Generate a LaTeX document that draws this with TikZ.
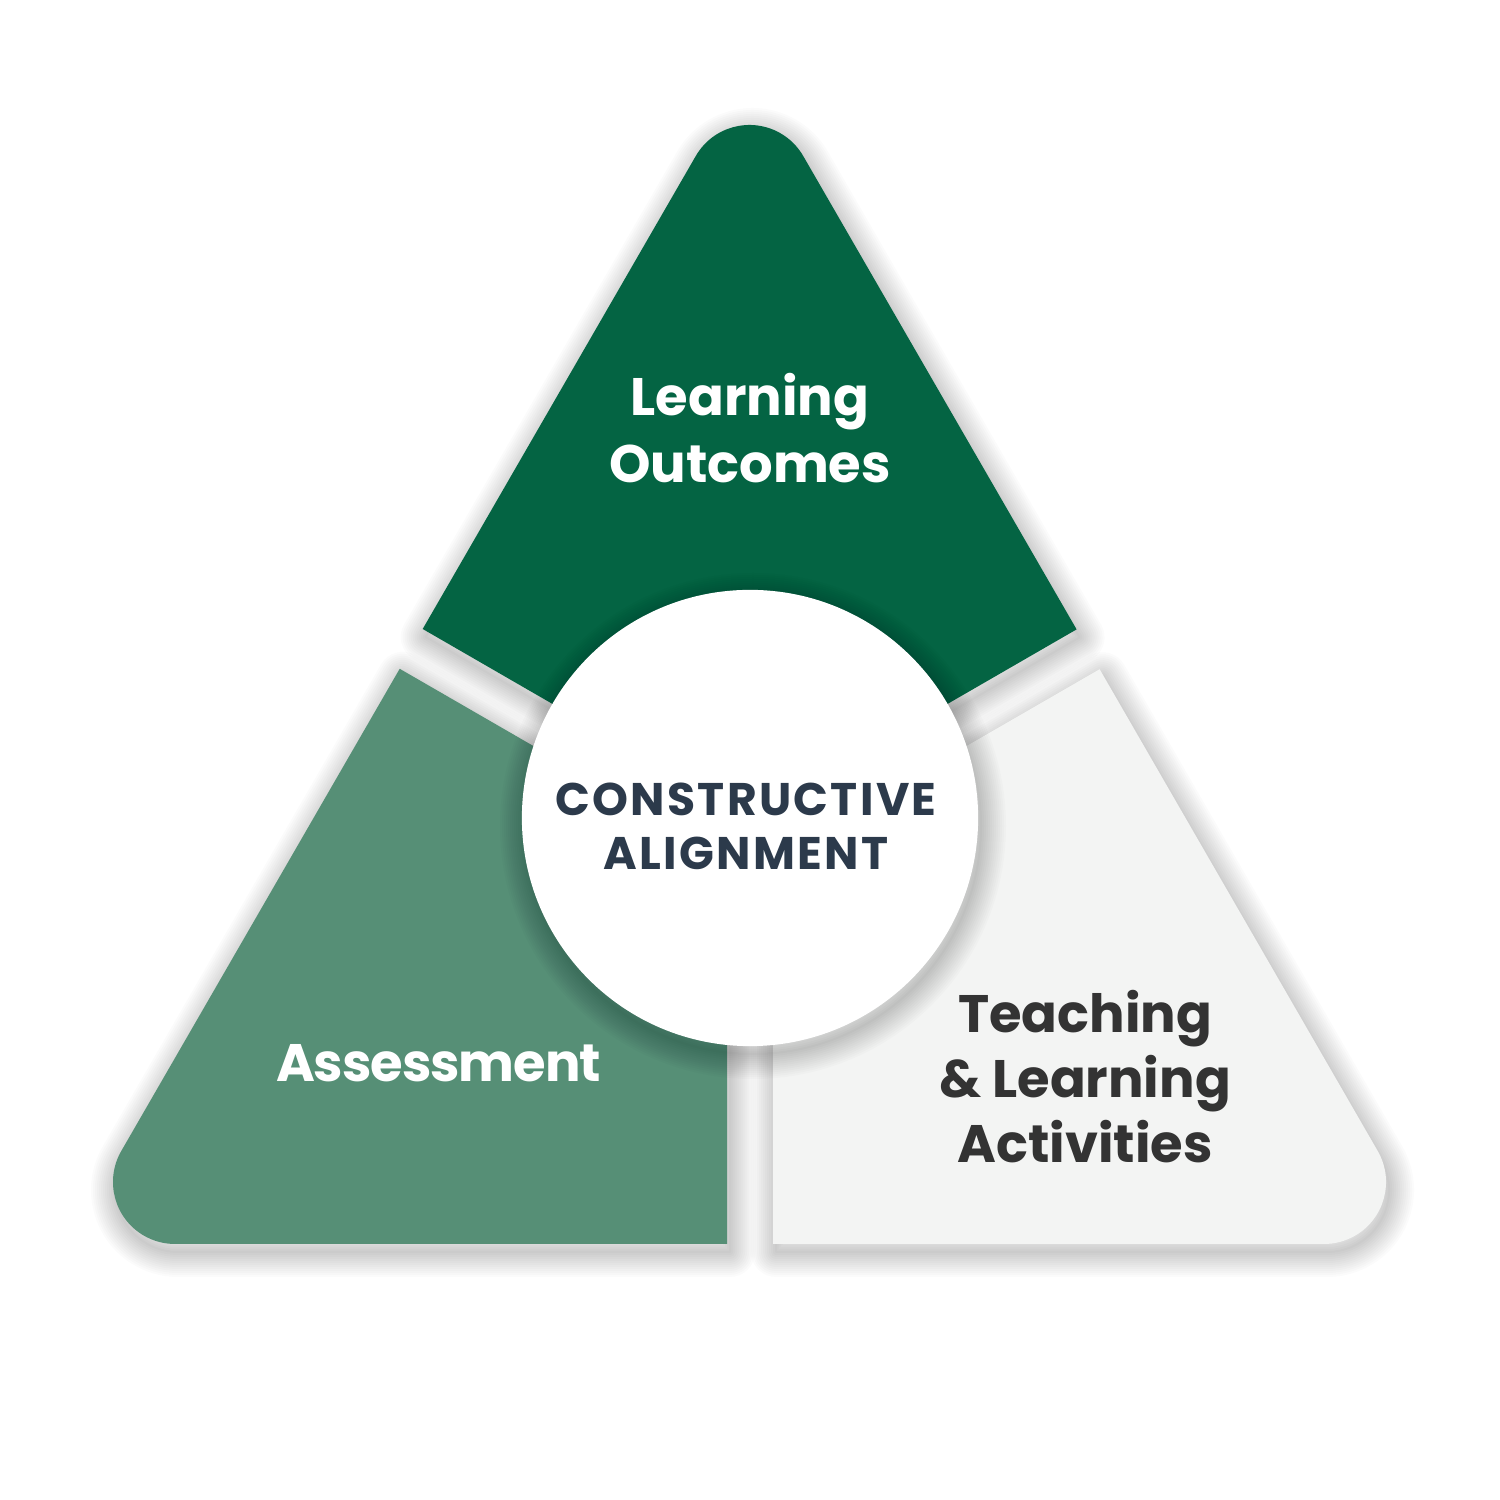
\documentclass[tikz,border=0pt]{standalone}
\usepackage{fontspec}
\setmainfont{Poppins}
\definecolor{dkgreen}{RGB}{4,100,67}
\definecolor{mdgreen}{RGB}{86,143,118}
\definecolor{ltgrey}{RGB}{243,244,243}
\definecolor{navytxt}{RGB}{44,58,75}
\definecolor{greytxt}{RGB}{51,51,51}
\def\toppath{(422.7,871) -- (695.8,1344) arc[start angle=150,end angle=30,radius=62] -- (1076.6,870.6) -- (750,682) -- cycle}
\def\leftpath{(399.7,831.2) -- (121.3,349) arc[start angle=150,end angle=270,radius=62] -- (727,256) -- (727,642.2) -- cycle}
\def\rightpath{(1099.6,830.8) -- (1377.7,349) arc[start angle=30,end angle=-90,radius=62] -- (773,256) -- (773,642.2) -- cycle}
\def\circpath{(750,682) circle[radius=228]}
\newcommand\softshade[1]{%
  \begin{scope}[shift={(3,-8)}]
    \foreach \w in {50,46,...,2} {\draw[black, opacity=0.016, line width=\w*0.01cm, line join=round] #1;}
  \end{scope}}
\begin{document}
\begin{tikzpicture}[x=0.01cm,y=0.01cm,
  lbl/.style={font=\bfseries\fontsize{15}{19.3}\selectfont, align=center, anchor=base, inner sep=0pt}]
\fill[white] (0,0) rectangle (1500,1500);
\useasboundingbox (0,0) rectangle (1500,1500);
% top piece
\softshade{\toppath}
\fill[dkgreen] \toppath;
% bottom-left piece
\softshade{\leftpath}
\fill[mdgreen] \leftpath;
% bottom-right piece
\softshade{\rightpath}
\fill[ltgrey] \rightpath;
% centre circle
\softshade{\circpath}
\node[circle, fill=white, minimum size=4.56cm, inner sep=0pt] (ca) at (750,682) {};
% labels
\node[lbl, text=white] (lo) at (750,1017) {Learning\\Outcomes};
\node[lbl, text=navytxt, font=\bfseries\fontsize{13}{15.6}\selectfont\addfontfeature{LetterSpace=5}] (cat) at (746,630) {CONSTRUCTIVE\\ALIGNMENT};
\node[lbl, text=white, font=\bfseries\fontsize{15}{19.3}\selectfont\addfontfeature{LetterSpace=-2}] (as) at (438.5,418) {Assessment};
\node[lbl, text=greytxt, font=\bfseries\fontsize{15}{18.5}\selectfont] (tl) at (1085,337) {Teaching\\\& Learning\\Activities};
\end{tikzpicture}
\end{document}
